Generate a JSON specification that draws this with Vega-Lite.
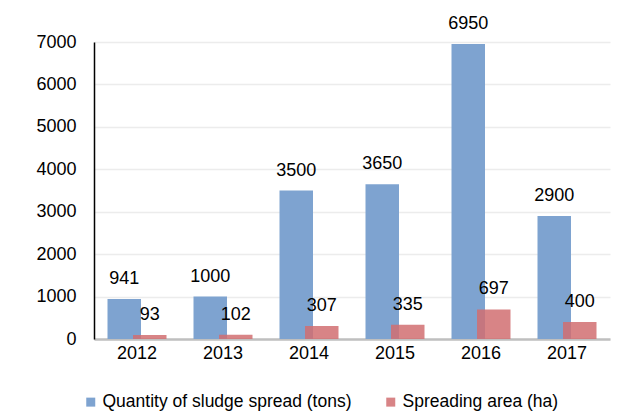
{
  "$schema": "https://vega.github.io/schema/vega-lite/v6.json",
  "autosize": "none",
  "width": 516,
  "height": 297,
  "padding": {"left": 94, "top": 42, "right": 20, "bottom": 79},
  "background": "white",
  "config": {
    "font": "Liberation Sans",
    "view": {"stroke": null},
    "axis": {"labelFont": "Liberation Sans", "labelFontSize": 18, "labelColor": "#000000", "ticks": false, "title": null}
  },
  "data": {
    "values": [
      {"year": "2012", "series": "Quantity of sludge spread (tons)", "value": 941},
      {"year": "2013", "series": "Quantity of sludge spread (tons)", "value": 1000},
      {"year": "2014", "series": "Quantity of sludge spread (tons)", "value": 3500},
      {"year": "2015", "series": "Quantity of sludge spread (tons)", "value": 3650},
      {"year": "2016", "series": "Quantity of sludge spread (tons)", "value": 6950},
      {"year": "2017", "series": "Quantity of sludge spread (tons)", "value": 2900},
      {"year": "2012", "series": "Spreading area (ha)", "value": 93},
      {"year": "2013", "series": "Spreading area (ha)", "value": 102},
      {"year": "2014", "series": "Spreading area (ha)", "value": 307},
      {"year": "2015", "series": "Spreading area (ha)", "value": 335},
      {"year": "2016", "series": "Spreading area (ha)", "value": 697},
      {"year": "2017", "series": "Spreading area (ha)", "value": 400}
    ]
  },
  "encoding": {
    "x": {
      "field": "year", "type": "nominal",
      "scale": {"paddingInner": 0, "paddingOuter": 0},
      "axis": {"labelAngle": 0, "domainColor": "#bfbfbf", "domainWidth": 2.5, "labelPadding": 5, "grid": false, "labelFontSize": 18}
    },
    "xOffset": {
      "field": "series", "type": "nominal",
      "sort": ["Quantity of sludge spread (tons)", "Spreading area (ha)"],
      "scale": {"paddingInner": 0, "paddingOuter": 0.686}
    },
    "y": {
      "field": "value", "type": "quantitative",
      "scale": {"domain": [0, 7000], "nice": false},
      "axis": {"values": [0, 1000, 2000, 3000, 4000, 5000, 6000, 7000], "format": "d", "domainColor": "#000000", "domainWidth": 1.5, "gridColor": "#ececec", "gridWidth": 1.5, "labelPadding": 18, "labelFontSize": 18}
    }
  },
  "layer": [
    {
      "mark": {"type": "bar", "width": 33.5},
      "encoding": {
        "color": {
          "field": "series", "type": "nominal",
          "sort": ["Quantity of sludge spread (tons)", "Spreading area (ha)"],
          "scale": {"domain": ["Quantity of sludge spread (tons)", "Spreading area (ha)"], "range": ["#7EA3D0", "#D16E71"]},
          "legend": {
            "title": null, "orient": "none", "direction": "horizontal",
            "legendX": -12, "legendY": 351,
            "symbolType": "square", "symbolSize": 81, "symbolStrokeWidth": 0,
            "labelFontSize": 17.5, "labelFont": "Liberation Sans", "labelColor": "#000000",
            "labelOffset": 3, "columnPadding": 30, "labelLimit": 500
          }
        },
        "opacity": {
          "field": "series", "type": "nominal",
          "scale": {"domain": ["Quantity of sludge spread (tons)", "Spreading area (ha)"], "range": [1, 0.85]},
          "legend": null
        }
      }
    },
    {
      "mark": {"type": "text", "fontSize": 18, "font": "Liberation Sans", "color": "#000000", "baseline": "alphabetic", "dy": -15},
      "encoding": {"text": {"field": "value", "type": "quantitative", "format": "d"}}
    }
  ]
}
